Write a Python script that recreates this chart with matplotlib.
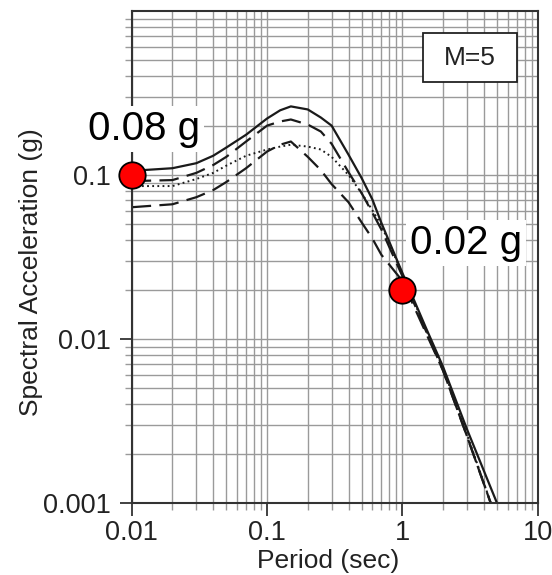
import matplotlib
matplotlib.use('Agg')
import matplotlib.pyplot as plt
from matplotlib.patches import Rectangle

plt.rcParams['font.family'] = ['Liberation Sans', 'DejaVu Sans']
plt.rcParams['lines.scale_dashes'] = False

# Response spectra, M=5 (periods in sec, Sa in g)
periods = [0.01, 0.02, 0.03, 0.04, 0.05, 0.07, 0.1, 0.125, 0.15, 0.2,
           0.25, 0.3, 0.4, 0.5, 0.6, 0.7, 1.0, 1.5, 2.0, 3.0, 5.0]
sa_solid = [0.106, 0.110, 0.118, 0.131, 0.147, 0.176, 0.221, 0.248, 0.262, 0.251,
            0.224, 0.200, 0.133, 0.0958, 0.071, 0.0510, 0.0253, 0.0116, 0.00676, 0.00282, 0.00100]
sa_dash_hi = [0.0918, 0.0931, 0.103, 0.115, 0.129, 0.160, 0.200, 0.212, 0.218, 0.203,
              0.184, 0.155, 0.104, 0.0775, 0.059, 0.0465, 0.0242, 0.0111, 0.00641, 0.00256, 0.00078]
sa_dotted = [0.0856, 0.0856, 0.0945, 0.103, 0.114, 0.131, 0.143, 0.149, 0.153, 0.149,
             0.143, 0.129, 0.100, 0.0775, 0.061, 0.0493, 0.0249, 0.0113, 0.00659, 0.00263, 0.00078]
sa_dash_lo = [0.0636, 0.0663, 0.0732, 0.0809, 0.0906, 0.110, 0.139, 0.153, 0.160, 0.129,
              0.107, 0.0880, 0.0682, 0.0514, 0.041, 0.0326, 0.0226, 0.0108, 0.00641, 0.00256, 0.00078]

# highlighted points
dot_periods = [0.01, 1.0]
dot_sa = [0.1, 0.02]
dot_labels = ['0.08 g', '0.02 g']

x_ticks = [0.01, 0.1, 1, 10]
x_ticklabels = ['0.01', '0.1', '1', '10']
y_ticks = [0.001, 0.01, 0.1]
y_ticklabels = ['0.001', '0.01', '0.1']

TEXT = '#222222'
LINE = '#1a1a1a'

fig = plt.figure(figsize=(5.52, 5.75), dpi=100)
ax = fig.add_axes([131.7 / 552, 72 / 575, 406 / 552, 492 / 575])
ax.set_xscale('log')
ax.set_yscale('log')
ax.set_xlim(0.01, 10)
ax.set_ylim(0.001, 1)

ax.grid(True, which='both', color='#9a9a9a', linewidth=1.0)
ax.set_axisbelow(True)

ax.plot(periods, sa_solid, color=LINE, lw=1.6, linestyle='-')
ax.plot(periods, sa_dash_hi, color=LINE, lw=1.6, linestyle=(0, (14, 6)))
ax.plot(periods, sa_dotted, color=LINE, lw=1.4, linestyle=(0, (1.3, 2.4)))
ax.plot(periods, sa_dash_lo, color=LINE, lw=1.6, linestyle=(0, (14, 6)))

ax.plot(dot_periods, dot_sa, 'o', ms=19, mfc='#ff0000', mec='black', mew=1.3,
        clip_on=False, zorder=10)

# value labels next to the dots
label_pos = [(-0.108, 0.738), (0.685, 0.506)]
for (lx, ly), txt in zip(label_pos, dot_labels):
    ax.text(lx, ly, txt, transform=ax.transAxes, fontsize=29, color='black',
            ha='left', va='baseline', zorder=11, clip_on=False,
            bbox=dict(facecolor='white', edgecolor='none', pad=3))

# M=5 box
ax.add_patch(Rectangle((0.717, 0.856), 0.231, 0.099, transform=ax.transAxes,
                       facecolor='white', edgecolor='#222222', lw=1.3, zorder=5))
ax.text(0.8325, 0.905, 'M=5', transform=ax.transAxes, fontsize=19, color=TEXT,
        ha='center', va='center', zorder=6)

ax.set_xticks(x_ticks)
ax.set_xticklabels(x_ticklabels)
ax.set_yticks(y_ticks)
ax.set_yticklabels(y_ticklabels)
ax.tick_params(which='major', direction='out', length=9, width=1.3,
               color='#333333', labelsize=19.5, labelcolor=TEXT)
ax.tick_params(which='minor', direction='out', length=5, width=1.0,
               color='#9a9a9a')
ax.tick_params(axis='x', which='major', pad=3)
ax.tick_params(axis='y', which='major', pad=6)
ax.tick_params(axis='y', which='minor', labelleft=False)
ax.tick_params(axis='x', which='minor', labelbottom=False)

for s in ax.spines.values():
    s.set_color('#333333')
    s.set_linewidth(1.5)

ax.set_xlabel('Period (sec)', fontsize=19, color=TEXT)
ax.set_ylabel('Spectral Acceleration (g)', fontsize=19, color=TEXT)
ax.xaxis.set_label_coords(0.483, -0.094)
ax.yaxis.set_label_coords(-0.219, 0.47)

fig.savefig('out.png', dpi=100, facecolor='white')
